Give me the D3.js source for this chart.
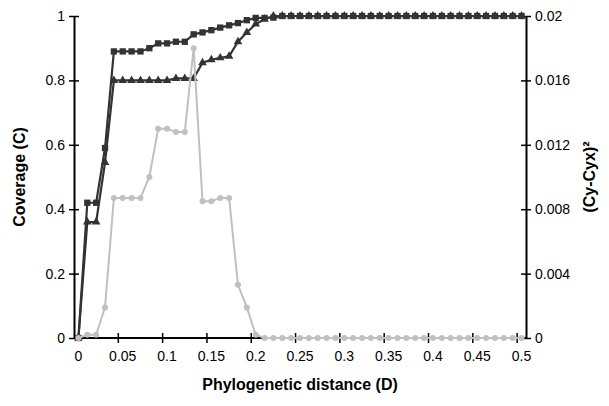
<html lang="en">
<head>
  <title>Coverage</title>
  <meta charset="utf-8">
  <script src="https://d3js.org/d3.v7.min.js"></script>
  <style>
    body { margin: 0; background: #fff; }
    text { font-family: 'Liberation Sans', Arial, sans-serif; }
  </style>
</head>
<body>
  <svg id="canvas"></svg>
</body>
<script>

// ************************************************************************************** //
// Data

var distance = ['0','0.01','0.02','0.03','0.04','0.05','0.06','0.07','0.08','0.09',
  '0.1','0.11','0.12','0.13','0.14','0.15','0.16','0.17','0.18','0.19',
  '0.2','0.21','0.22','0.23','0.24','0.25','0.26','0.27','0.28','0.29',
  '0.3','0.31','0.32','0.33','0.34','0.35','0.36','0.37','0.38','0.39',
  '0.4','0.41','0.42','0.43','0.44','0.45','0.46','0.47','0.48','0.49','0.5'];

var coverage_sq = [0, 0.42, 0.42, 0.59, 0.89, 0.89, 0.89, 0.89, 0.90, 0.915,
  0.915, 0.92, 0.92, 0.943, 0.949, 0.956, 0.964, 0.971, 0.978, 0.987,
  0.994, 0.994, 0.995, 1, 1, 1, 1, 1, 1, 1,
  1, 1, 1, 1, 1, 1, 1, 1, 1, 1,
  1, 1, 1, 1, 1, 1, 1, 1, 1, 1, 1];

var coverage_tri = [0, 0.36, 0.36, 0.545, 0.80, 0.80, 0.80, 0.80, 0.80, 0.80,
  0.80, 0.806, 0.806, 0.806, 0.855, 0.864, 0.87, 0.875, 0.92, 0.949,
  0.975, 0.99, 1, 1, 1, 1, 1, 1, 1, 1,
  1, 1, 1, 1, 1, 1, 1, 1, 1, 1,
  1, 1, 1, 1, 1, 1, 1, 1, 1, 1, 1];

var sq_diff = [0, 0.0002, 0.0002, 0.0019, 0.0087, 0.0087, 0.0087, 0.0087, 0.0100, 0.0130,
  0.0130, 0.0128, 0.0128, 0.0180, 0.0085, 0.0085, 0.0087, 0.0087, 0.0033, 0.0019,
  0.0002, 0, 0, 0, 0, 0, 0, 0, 0, 0,
  0, 0, 0, 0, 0, 0, 0, 0, 0, 0,
  0, 0, 0, 0, 0, 0, 0, 0, 0, 0, 0];

var x_labels = ['0','0.05','0.1','0.15','0.2','0.25','0.3','0.35','0.4','0.45','0.5'];
var left_ticks = [0, 0.2, 0.4, 0.6, 0.8, 1];
var right_ticks = [0, 0.004, 0.008, 0.012, 0.016, 0.02];

// ************************************************************************************** //
// Setup

var canvas_width = 609, canvas_height = 406;
var plot = { left: 74, right: 526, top: 16, bottom: 338 };
var dark = '#333333', light = '#c0c0c0';

var svg = d3.select('#canvas').attr('width', canvas_width).attr('height', canvas_height);

var x = d3.scaleBand().domain(distance).range([plot.left, plot.right]).padding(0);
var y = d3.scaleLinear().domain([0, 1]).range([plot.bottom, plot.top]);
var y2 = d3.scaleLinear().domain([0, 0.02]).range([plot.bottom, plot.top]);
var cx = function(i){ return x(distance[i]) + x.bandwidth()/2; };

// ************************************************************************************** //
// Axes

var leftAxis = svg.append('g').attr('transform', 'translate(' + plot.left + ',0)')
  .call(d3.axisLeft(y).tickValues(left_ticks).tickFormat(d3.format('')).tickSize(5).tickSizeOuter(0).tickPadding(4));

var rightAxis = svg.append('g').attr('transform', 'translate(' + plot.right + ',0)')
  .call(d3.axisRight(y2).tickValues(right_ticks).tickFormat(d3.format('')).tickSize(5).tickSizeOuter(0).tickPadding(4));

leftAxis.selectAll('.tick line').attr('x1', 5);
rightAxis.selectAll('.tick line').attr('x1', -5);

var bottomAxis = svg.append('g').attr('transform', 'translate(0,' + plot.bottom + ')')
  .call(d3.axisBottom(x).tickValues(x_labels).tickSize(0).tickSizeOuter(0).tickPadding(13));
bottomAxis.select('.domain').attr('d', 'M' + plot.left + ',0H' + plot.right);

// boundary ticks every 5 categories
bottomAxis.selectAll('.btick')
  .data(x_labels.slice(1))
  .enter().append('line')
  .attr('class', 'btick')
  .attr('x1', d => x(d)).attr('x2', d => x(d))
  .attr('y1', -5).attr('y2', 5)
  .attr('stroke', '#000');

svg.selectAll('.domain').attr('stroke', '#000').attr('stroke-width', 2);
svg.selectAll('.tick line').attr('stroke', '#000').attr('stroke-width', 1.5);
bottomAxis.selectAll('.btick').attr('stroke-width', 1.5);
svg.selectAll('.tick text').attr('font-size', 14).attr('fill', '#000')
  .style('font-family', "'Liberation Sans', Arial, sans-serif");

// titles
svg.append('text').attr('x', 300).attr('y', 390).attr('text-anchor', 'middle')
  .attr('font-size', 16).attr('font-weight', 'bold').text('Phylogenetic distance (D)');

svg.append('text').attr('transform', 'translate(25,177) rotate(-90)').attr('text-anchor', 'middle')
  .attr('font-size', 16).attr('font-weight', 'bold').text('Coverage (C)');

svg.append('text').attr('transform', 'translate(595,177) rotate(-90)').attr('text-anchor', 'middle')
  .attr('font-size', 16).attr('font-weight', 'bold').text('(Cy-Cyx)²');

// ************************************************************************************** //
// Series

var lineLeft = d3.line().x((d, i) => cx(i)).y(d => y(d));
var lineRight = d3.line().x((d, i) => cx(i)).y(d => y2(d));

// triangles
svg.append('path').attr('d', lineLeft(coverage_tri)).attr('fill', 'none').attr('stroke', dark).attr('stroke-width', 2.2);
svg.selectAll('.tri').data(coverage_tri).enter().append('path')
  .attr('class', 'tri')
  .attr('d', d3.symbol(d3.symbolTriangle, 32))
  .attr('transform', (d, i) => 'translate(' + cx(i) + ',' + y(d) + ')')
  .attr('fill', dark);

// squares
svg.append('path').attr('d', lineLeft(coverage_sq)).attr('fill', 'none').attr('stroke', dark).attr('stroke-width', 2.2);
svg.selectAll('.sq').data(coverage_sq).enter().append('path')
  .attr('class', 'sq')
  .attr('d', d3.symbol(d3.symbolSquare, 40))
  .attr('transform', (d, i) => 'translate(' + cx(i) + ',' + y(d) + ')')
  .attr('fill', dark);

// circles (right axis)
svg.append('path').attr('d', lineRight(sq_diff)).attr('fill', 'none').attr('stroke', light).attr('stroke-width', 2);
svg.selectAll('.circ').data(sq_diff).enter().append('circle')
  .attr('class', 'circ')
  .attr('cx', (d, i) => cx(i)).attr('cy', d => y2(d)).attr('r', 3)
  .attr('fill', light);

</script>
</html>
